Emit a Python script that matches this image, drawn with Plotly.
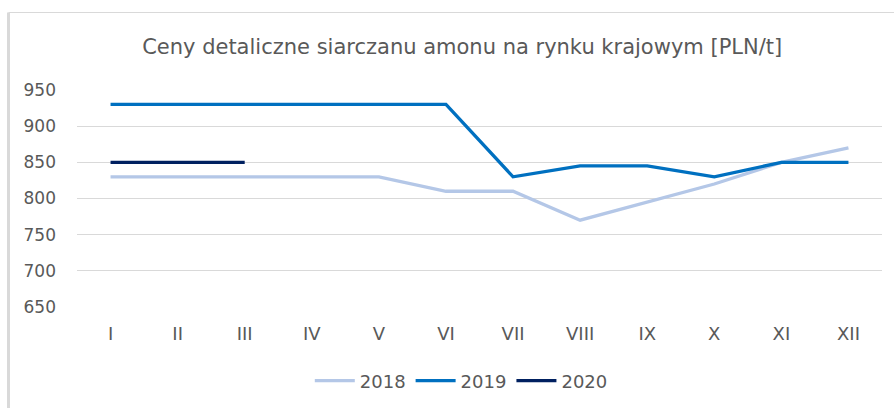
import plotly.graph_objects as go

months = ["I", "II", "III", "IV", "V", "VI", "VII", "VIII", "IX", "X", "XI", "XII"]
y2018 = [830, 830, 830, 830, 830, 810, 810, 770, 795, 820, 850, 870]
y2019 = [930, 930, 930, 930, 930, 930, 830, 845, 845, 830, 850, 850]
months2020 = ["I", "II", "III"]
y2020 = [850, 850, 850]
y_ticks = [650, 700, 750, 800, 850, 900, 950]

FONT = "DejaVu Sans"
GREY = "#595959"

fig = go.Figure()
fig.add_trace(go.Scatter(x=months, y=y2018, mode="lines", name="2018",
                         line=dict(color="#b4c7e7", width=3.3)))
fig.add_trace(go.Scatter(x=months, y=y2019, mode="lines", name="2019",
                         line=dict(color="#0070c0", width=3.3)))
fig.add_trace(go.Scatter(x=months2020, y=y2020, mode="lines", name="2020",
                         line=dict(color="#002060", width=3.3)))

# Chart border (top and left visible)
L, R, T, B = 77, 882, 90, 307
def px(x):
    return (x - L) / (R - L)
def py(y):
    return (B - y) / (B - T)

fig.add_shape(type="line", xref="paper", yref="paper",
              x0=px(8.5), x1=px(900), y0=py(12.5), y1=py(12.5),
              line=dict(color="#d9d9d9", width=1))
fig.add_shape(type="line", xref="paper", yref="paper",
              x0=px(8.5), x1=px(8.5), y0=py(12.5), y1=py(420),
              line=dict(color="#d9d9d9", width=3))

fig.update_layout(
    width=894, height=408,
    margin=dict(l=L, r=894 - R, t=T, b=408 - B),
    paper_bgcolor="white", plot_bgcolor="white",
    font=dict(family=FONT, color=GREY, size=17),
    title=dict(text="Ceny detaliczne siarczanu amonu na rynku krajowym [PLN/t]",
               x=0.517, xref="container", xanchor="center",
               y=(408 - 47) / 408, yref="container", yanchor="middle",
               font=dict(family=FONT, size=21, color=GREY)),
    xaxis=dict(categoryorder="array", categoryarray=months, range=[-0.5, 11.5],
               showgrid=False, showline=False, zeroline=False,
               ticks="", tickfont=dict(size=18, color=GREY), ticklabelstandoff=14),
    yaxis=dict(range=[650, 950], tickvals=y_ticks, showgrid=True,
               gridcolor="#d9d9d9", gridwidth=1, zeroline=False, showline=False,
               ticks="", tickfont=dict(size=17, color=GREY), ticklabelstandoff=20),
    legend=dict(orientation="h", x=0.516, xref="container", xanchor="center",
                y=(408 - 381) / 408, yref="container", yanchor="middle",
                font=dict(size=18, color=GREY), itemwidth=40,
                bgcolor="rgba(0,0,0,0)"),
    showlegend=True,
)

fig.write_html("out.html",
               config={"displayModeBar": False},
               post_script="document.body.style.margin='0';document.body.style.padding='0';")
